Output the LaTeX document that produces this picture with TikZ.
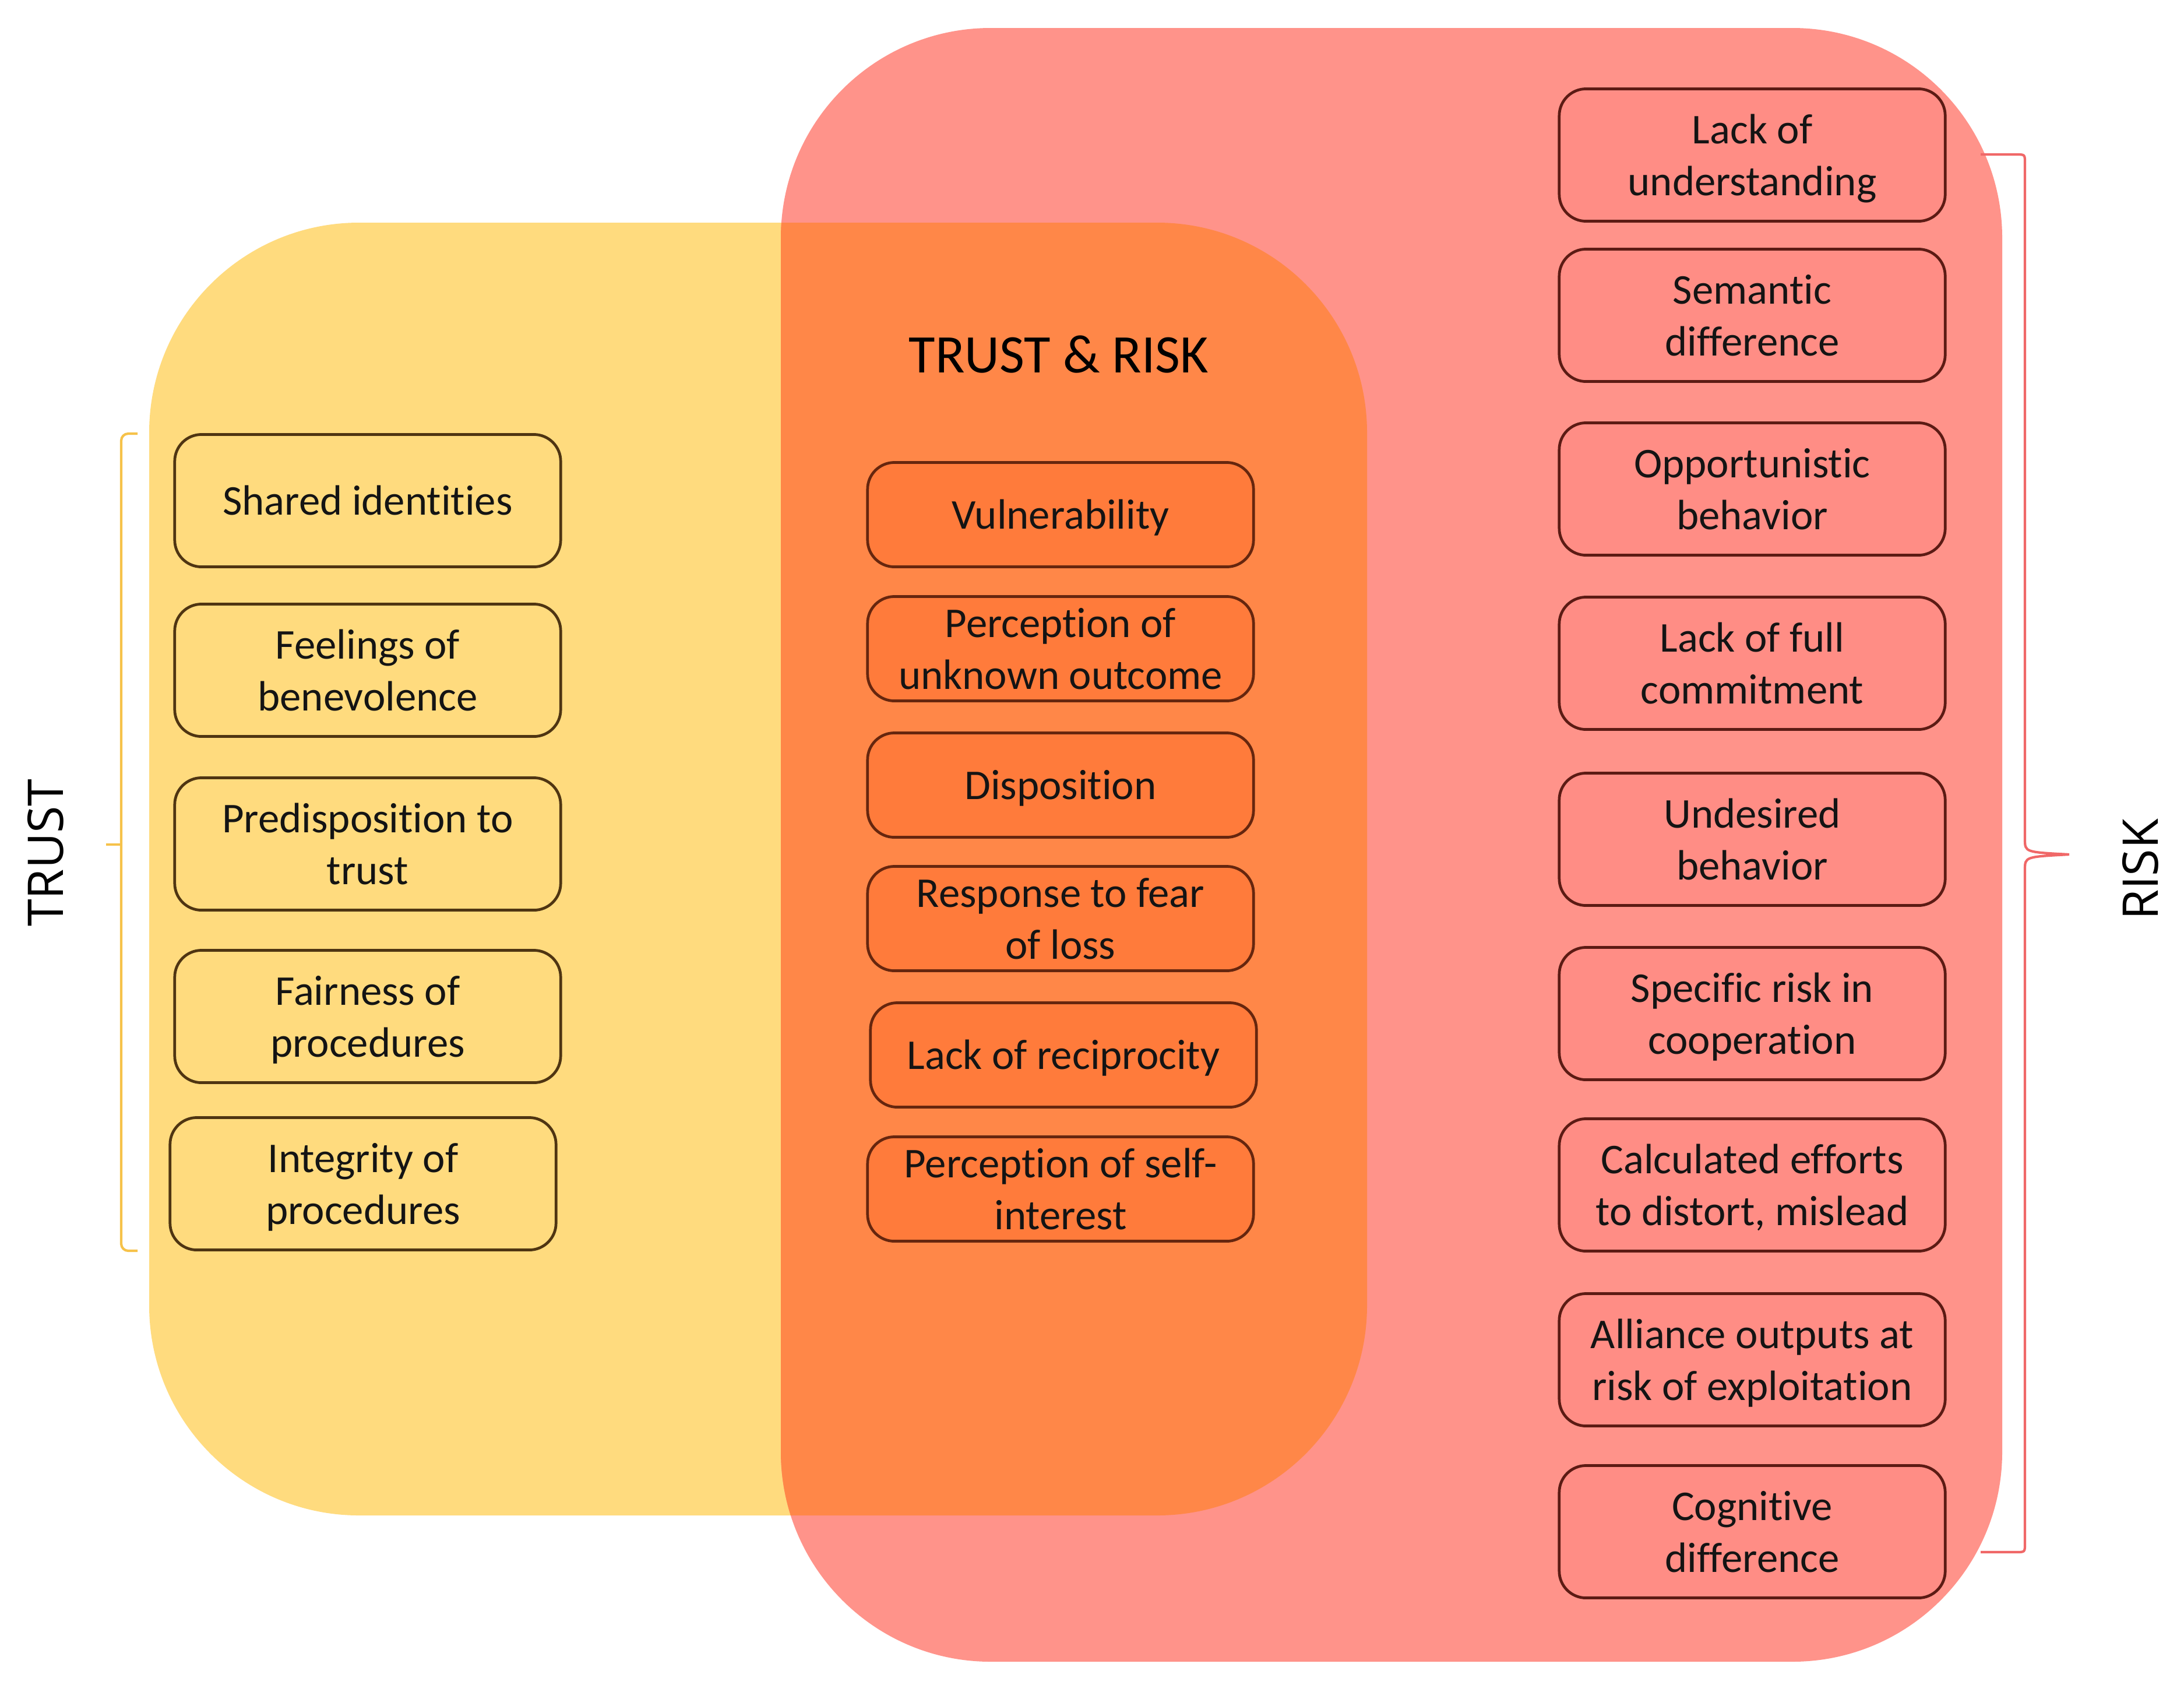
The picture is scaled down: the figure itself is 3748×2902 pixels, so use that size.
\documentclass[tikz,border=0pt]{standalone}
\usepackage{fontspec}
\setmainfont{Carlito}[Ligatures=NoCommon]
\newfontfamily\sidefont{Open Sans}
\definecolor{ybg}{HTML}{FFDB7E}
\definecolor{rbg}{HTML}{FF938A}
\definecolor{obg}{HTML}{FF8748}
\definecolor{obox}{HTML}{FF7B3B}
\definecolor{rbox}{HTML}{FF8D85}
\definecolor{ybox}{HTML}{FFDB7E}
\definecolor{ydraw}{HTML}{4F3512}
\definecolor{rdraw}{HTML}{5C1B14}
\definecolor{odraw}{HTML}{66260E}
\definecolor{ybrace}{HTML}{F6C24A}
\definecolor{rbrace}{HTML}{F06868}
\newcommand\bxfont{\fontsize{20.7}{25.2}\selectfont}
\newcommand\topstrut{\rule{0pt}{0.952em}}
\newcommand\tallstrut{\rule{0pt}{2.169em}}
\newcommand\botstrut{\rule[-0.269em]{0pt}{0.269em}}
\begin{document}
\begin{tikzpicture}[x=0.01cm,y=-0.01cm,
  box/.style={rectangle, rounded corners=0.46cm, line width=1.35pt, minimum width=6.62cm,
    minimum height=2.27cm, inner sep=0pt, align=center, font=\bxfont, text=black!92,
    execute at begin node=\topstrut, execute at end node=\botstrut},
  two/.style={execute at begin node=\tallstrut},
  ybx/.style={box, draw=ydraw, fill=ybox},
  obx/.style={box, draw=odraw, fill=obox, minimum height=1.79cm},
  rbx/.style={box, draw=rdraw, fill=rbox},
  sidelabel/.style={rotate=90, font=\sidefont\fontsize{24}{28}\selectfont, text=black},
  brk/.style={line width=1.2pt}]
\useasboundingbox[fill=white] (0,0) rectangle (3748,2902);
% background regions
\fill[ybg, rounded corners=3.6cm] (256,382) rectangle (2346,2600);
\fill[rbg, rounded corners=3.6cm] (1340,48) rectangle (3436,2851);
\begin{scope}
  \clip[rounded corners=3.6cm] (1340,48) rectangle (3436,2851);
  \fill[obg, rounded corners=3.6cm] (256,382) rectangle (2346,2600);
\end{scope}
% title
\node (title) at (1817,608) {\fontsize{26.5}{30}\selectfont TRUST \& RISK};
% trust column
\node[ybx] (t1) at (631,859)  {Shared identities};
\node[ybx,two] (t2) at (631,1150) {Feelings of\\benevolence};
\node[ybx,two] (t3) at (631,1448) {Predisposition to\\trust};
\node[ybx,two] (t4) at (631,1744) {Fairness of\\procedures};
\node[ybx,two] (t5) at (623,2031) {Integrity of\\procedures};
% trust & risk column
\node[obx] (m1) at (1820,883)  {Vulnerability};
\node[obx,two] (m2) at (1820,1113) {Perception of\\unknown outcome};
\node[obx] (m3) at (1820,1347) {Disposition};
\node[obx,two] (m4) at (1820,1576) {Response to fear\\of loss};
\node[obx] (m5) at (1825,1810) {Lack of reciprocity};
\node[obx,two] (m6) at (1820,2040) {Perception of self-\\interest};
% risk column
\node[rbx,two] (r1) at (3007,266)  {Lack of\\understanding};
\node[rbx,two] (r2) at (3007,541)  {Semantic\\difference};
\node[rbx,two] (r3) at (3007,839)  {Opportunistic\\behavior};
\node[rbx,two] (r4) at (3007,1138) {Lack of full\\commitment};
\node[rbx,two] (r5) at (3007,1440) {Undesired\\behavior};
\node[rbx,two] (r6) at (3007,1739) {Specific risk in\\cooperation};
\node[rbx,two] (r7) at (3007,2033) {Calculated efforts\\to distort, mislead};
\node[rbx,two] (r8) at (3007,2333) {Alliance outputs at\\risk of exploitation};
\node[rbx,two] (r9) at (3007,2628) {Cognitive\\difference};
% side labels
\node[sidelabel] (trust) at (78,1463) {TRUST};
\node[sidelabel] (risk) at (3673,1492) {RISK};
% brackets
\draw[brk, ybrace, rounded corners=0.12cm] (236,744) -- (208,744) -- (208,2146) -- (236,2146);
\draw[brk, ybrace] (208,1449) -- (182,1449);
\draw[brk, rbrace] (3399,265) -- (3460,265) .. controls (3475,265) .. (3475,280)
  -- (3475,1440) .. controls (3475,1462) .. (3551,1466)
  .. controls (3475,1470) .. (3475,1492) -- (3475,2648)
  .. controls (3475,2663) .. (3460,2663) -- (3399,2663);
\end{tikzpicture}
\end{document}
